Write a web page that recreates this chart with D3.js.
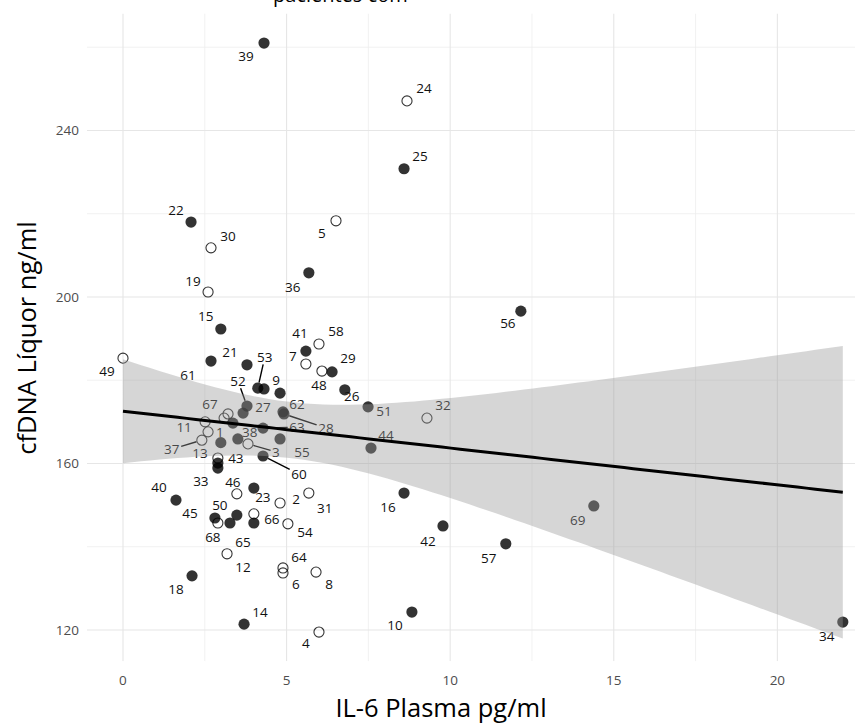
<!DOCTYPE html>
<html><head><meta charset="utf-8">
<script src="https://cdn.jsdelivr.net/npm/d3@7"></script>
<style>
body{margin:0;background:#fff}
svg{display:block}
text{font-family:"Open Sans",sans-serif}
</style>
</head><body>
<svg id="chart" width="855" height="724"></svg>
<script>
// ---------------- data ----------------
const patientIds = [1,2,3,4,5,6,7,8,9,10,11,12,13,14,15,16,17,18,19,20,21,22,23,24,25,26,27,28,29,30,31,32,33,34,35,36,37,38,39,40,41,42,43,44,45,46,47,48,49,50,51,52,53,54,55,56,57,58,59,60,61,62,63,64,65,66,67,68,69];
const il6Plasma = [2.99,4.80,3.82,5.99,6.51,4.89,5.59,5.90,4.80,8.83,2.51,3.18,2.60,3.70,2.99,8.59,3.21,2.11,2.60,3.36,3.79,2.08,4.00,8.68,8.59,6.78,3.67,4.92,6.39,2.69,5.68,9.29,2.90,22.0,2.90,5.68,2.41,3.51,4.31,1.62,5.59,9.78,2.90,7.58,2.81,3.48,4.00,6.08,0.0,3.48,7.49,3.79,4.12,5.04,4.80,12.16,11.70,5.99,4.31,4.28,2.69,4.89,4.28,4.89,3.27,4.00,3.09,2.90,14.39];
const cfdnaLiquor = [165.0,150.5,164.7,119.5,218.3,133.7,183.9,133.9,176.9,124.3,170.0,138.3,167.6,121.4,192.3,152.9,171.9,133.0,201.2,169.7,183.7,218.0,154.1,247.1,230.8,177.7,172.1,171.9,182.0,211.8,152.9,170.9,158.9,121.9,160.1,205.8,165.6,165.9,261.0,151.2,187.0,145.0,161.3,163.7,146.9,152.7,147.9,182.2,185.3,147.6,173.6,173.8,178.1,145.5,165.9,196.6,140.7,188.7,177.9,161.8,184.6,172.4,168.5,134.9,145.7,145.7,170.9,145.7,149.8];
// "o" = open circle, "f" = filled circle
const markerType = ["f","o","o","o","o","o","o","o","f","f","o","o","o","f","f","f","o","f","o","f","f","f","f","o","f","f","f","f","f","o","o","o","f","f","f","f","o","f","f","f","f","f","o","f","f","o","o","o","o","f","f","f","f","o","f","f","f","o","f","f","f","f","f","o","f","f","o","o","f"];
const labelled = [1,2,3,4,5,6,7,8,9,10,11,12,13,14,15,16,18,19,21,22,23,24,25,26,27,28,29,30,31,32,33,34,36,37,38,39,40,41,42,43,44,45,46,48,49,50,51,52,53,54,55,56,57,58,60,61,62,63,64,65,66,67,68,69];
const xTicks = [0,5,10,15,20];
const yTicks = [120,160,200,240];
const xTitle = "IL-6 Plasma pg/ml";
const yTitle = "cfDNA Líquor ng/ml";
const titleFragment = "pacientes com";

// label placement (pixel offsets of label centre from its point; repel layout)
const labelOffsets = {
 1:[-1,-10.5],2:[16,-4],3:[28,8],4:[-13,11],5:[-14,12],6:[13,11],7:[-13,-8],8:[13,12],9:[-4,-13],10:[-17,13],
 11:[-21,5],12:[16,13],13:[-8,21],14:[16,-12],15:[-15,-13],16:[-16,14],18:[-16,13],19:[-15,-11],21:[-17,-13],
 22:[-15,-12],23:[9,9],24:[17,-13],25:[16,-13],26:[7,6],27:[20,-6],28:[42,14],29:[16,-14],30:[17,-12],31:[16,15],
 32:[16,-13],33:[-17,13],34:[-16,14],36:[-16,14],37:[-30,9],38:[12,-7],39:[-18,13],40:[-17,-13],41:[-6,-18],
 42:[-15,15],43:[18,0],44:[15,-13],45:[-25,-5],46:[-4,-12],48:[-3,14],49:[-16,13],50:[-17,-10],51:[16,4],
 52:[-9,-25],53:[7,-31],54:[17,8],55:[22,13],56:[-13,12],57:[-17,14],58:[17,-13],60:[36,18],61:[-23,14],
 62:[14,-8],63:[34,-1],64:[16,-11],65:[13,19],66:[18,-4],67:[-14,-14],68:[-5,14],69:[-16,14]
};
const segmentIds = [3,28,37,52,53,60,63];

// ---------------- layout ----------------
const W = 855, H = 724;
const svg = d3.select("#chart");
svg.append("rect").attr("width",W).attr("height",H).attr("fill","#fff");

const x = d3.scaleLinear().domain([-1.1, 23.1]).range([87, 878.8]);
const y = d3.scaleLinear().domain([112.5, 268.1]).range([661.2, 13.5]);
const panel = {l:87, r:855, t:13.5, b:661.2};

svg.append("clipPath").attr("id","clip").append("rect")
  .attr("x",panel.l).attr("y",panel.t).attr("width",panel.r-panel.l).attr("height",panel.b-panel.t);

const g = svg.append("g").attr("clip-path","url(#clip)");

// grid
const xMinor = [2.5,7.5,12.5,17.5,22.5];
const yMinor = [140,180,220,260];
g.selectAll(".xminor").data(xMinor).join("line")
  .attr("x1",d=>x(d)).attr("x2",d=>x(d)).attr("y1",panel.t).attr("y2",panel.b)
  .attr("stroke","#ededed").attr("stroke-width",0.8);
g.selectAll(".yminor").data(yMinor).join("line")
  .attr("y1",d=>y(d)).attr("y2",d=>y(d)).attr("x1",panel.l).attr("x2",panel.r)
  .attr("stroke","#ededed").attr("stroke-width",0.8);
g.selectAll(".xmajor").data(xTicks).join("line")
  .attr("x1",d=>x(d)).attr("x2",d=>x(d)).attr("y1",panel.t).attr("y2",panel.b)
  .attr("stroke","#e6e6e6").attr("stroke-width",1.1);
g.selectAll(".ymajor").data(yTicks).join("line")
  .attr("y1",d=>y(d)).attr("y2",d=>y(d)).attr("x1",panel.l).attr("x2",panel.r)
  .attr("stroke","#e6e6e6").attr("stroke-width",1.1);

// points
const pts = patientIds.map((id,i)=>({id, xv:il6Plasma[i], yv:cfdnaLiquor[i], type:markerType[i]}));
const R = 5.6;
g.selectAll(".pt").data(pts).join("circle")
  .attr("cx",d=>x(d.xv)).attr("cy",d=>y(d.yv)).attr("r",d=>d.type==="f"?R:R-0.55)
  .attr("fill",d=>d.type==="f"?"rgba(0,0,0,0.8)":"none")
  .attr("stroke",d=>d.type==="f"?"none":"rgba(0,0,0,0.8)")
  .attr("stroke-width",1.1);

// labels + segments
const FS = 13.5;
const labG = g.append("g");
pts.filter(d=>labelled.includes(d.id)).forEach(d=>{
  const px = x(d.xv), py = y(d.yv);
  const off = labelOffsets[d.id];
  const lx = px+off[0], ly = py+off[1];
  const txt = String(d.id);
  if (segmentIds.includes(d.id)) {
    const hw = txt.length*FS*0.29+1.5, hh = FS*0.5+0.5;
    const dx = px-lx, dy = py-ly;
    const t = Math.min(Math.abs(dx)>0? hw/Math.abs(dx):1e9, Math.abs(dy)>0? hh/Math.abs(dy):1e9);
    const ex = lx+dx*t, ey = ly+dy*t;
    const len = Math.hypot(ex-px, ey-py);
    const sx = px+(ex-px)*(R/len), sy = py+(ey-py)*(R/len);
    labG.append("line").attr("x1",sx).attr("y1",sy).attr("x2",ex).attr("y2",ey)
      .attr("stroke","#000").attr("stroke-width",1.4);
  }
  labG.append("text").attr("x",lx).attr("y",ly).attr("dy","0.36em")
    .attr("text-anchor","middle").attr("font-size",FS).attr("fill","#111").text(txt);
});

// linear fit with 95% CI
const n = pts.length;
const xbar = d3.mean(pts,d=>d.xv), ybar = d3.mean(pts,d=>d.yv);
const Sxx = d3.sum(pts,d=>(d.xv-xbar)**2);
const Sxy = d3.sum(pts,d=>(d.xv-xbar)*(d.yv-ybar));
const slope = Sxy/Sxx, icpt = ybar-slope*xbar;
const sse = d3.sum(pts,d=>(d.yv-(icpt+slope*d.xv))**2);
const sres = Math.sqrt(sse/(n-2));
const tCrit = 1.996;
const xmin = d3.min(pts,d=>d.xv), xmax = d3.max(pts,d=>d.xv);
const grid = d3.range(80).map(i=>xmin+(xmax-xmin)*i/79).map(xv=>{
  const fit = icpt+slope*xv;
  const se = sres*Math.sqrt(1/n+(xv-xbar)**2/Sxx);
  return {xv, fit, lo:fit-tCrit*se, hi:fit+tCrit*se};
});
g.append("path").datum(grid)
  .attr("d",d3.area().x(d=>x(d.xv)).y0(d=>y(d.lo)).y1(d=>y(d.hi)))
  .attr("fill","rgba(153,153,153,0.4)");
g.append("path").datum(grid)
  .attr("d",d3.line().x(d=>x(d.xv)).y(d=>y(d.fit)))
  .attr("fill","none").attr("stroke","#000").attr("stroke-width",3);

// axes text
svg.selectAll(".xt").data(xTicks).join("text")
  .attr("x",d=>x(d)).attr("y",685).attr("text-anchor","middle")
  .attr("font-size",13.5).attr("fill","#4d4d4d").text(d=>d);
svg.selectAll(".yt").data(yTicks).join("text")
  .attr("x",79).attr("y",d=>y(d)).attr("dy","0.36em").attr("text-anchor","end")
  .attr("font-size",13.5).attr("fill","#4d4d4d").text(d=>d);
svg.append("text").attr("x",441).attr("y",717).attr("text-anchor","middle")
  .attr("font-size",25.5).attr("fill","#000").text(xTitle);
svg.append("text").attr("transform","translate(36,338) rotate(-90)").attr("text-anchor","middle")
  .attr("font-size",25.5).attr("fill","#000").text(yTitle);
svg.append("text").attr("x",273).attr("y",2).attr("font-size",20).attr("fill","#000").text(titleFragment);
</script>
</body></html>
